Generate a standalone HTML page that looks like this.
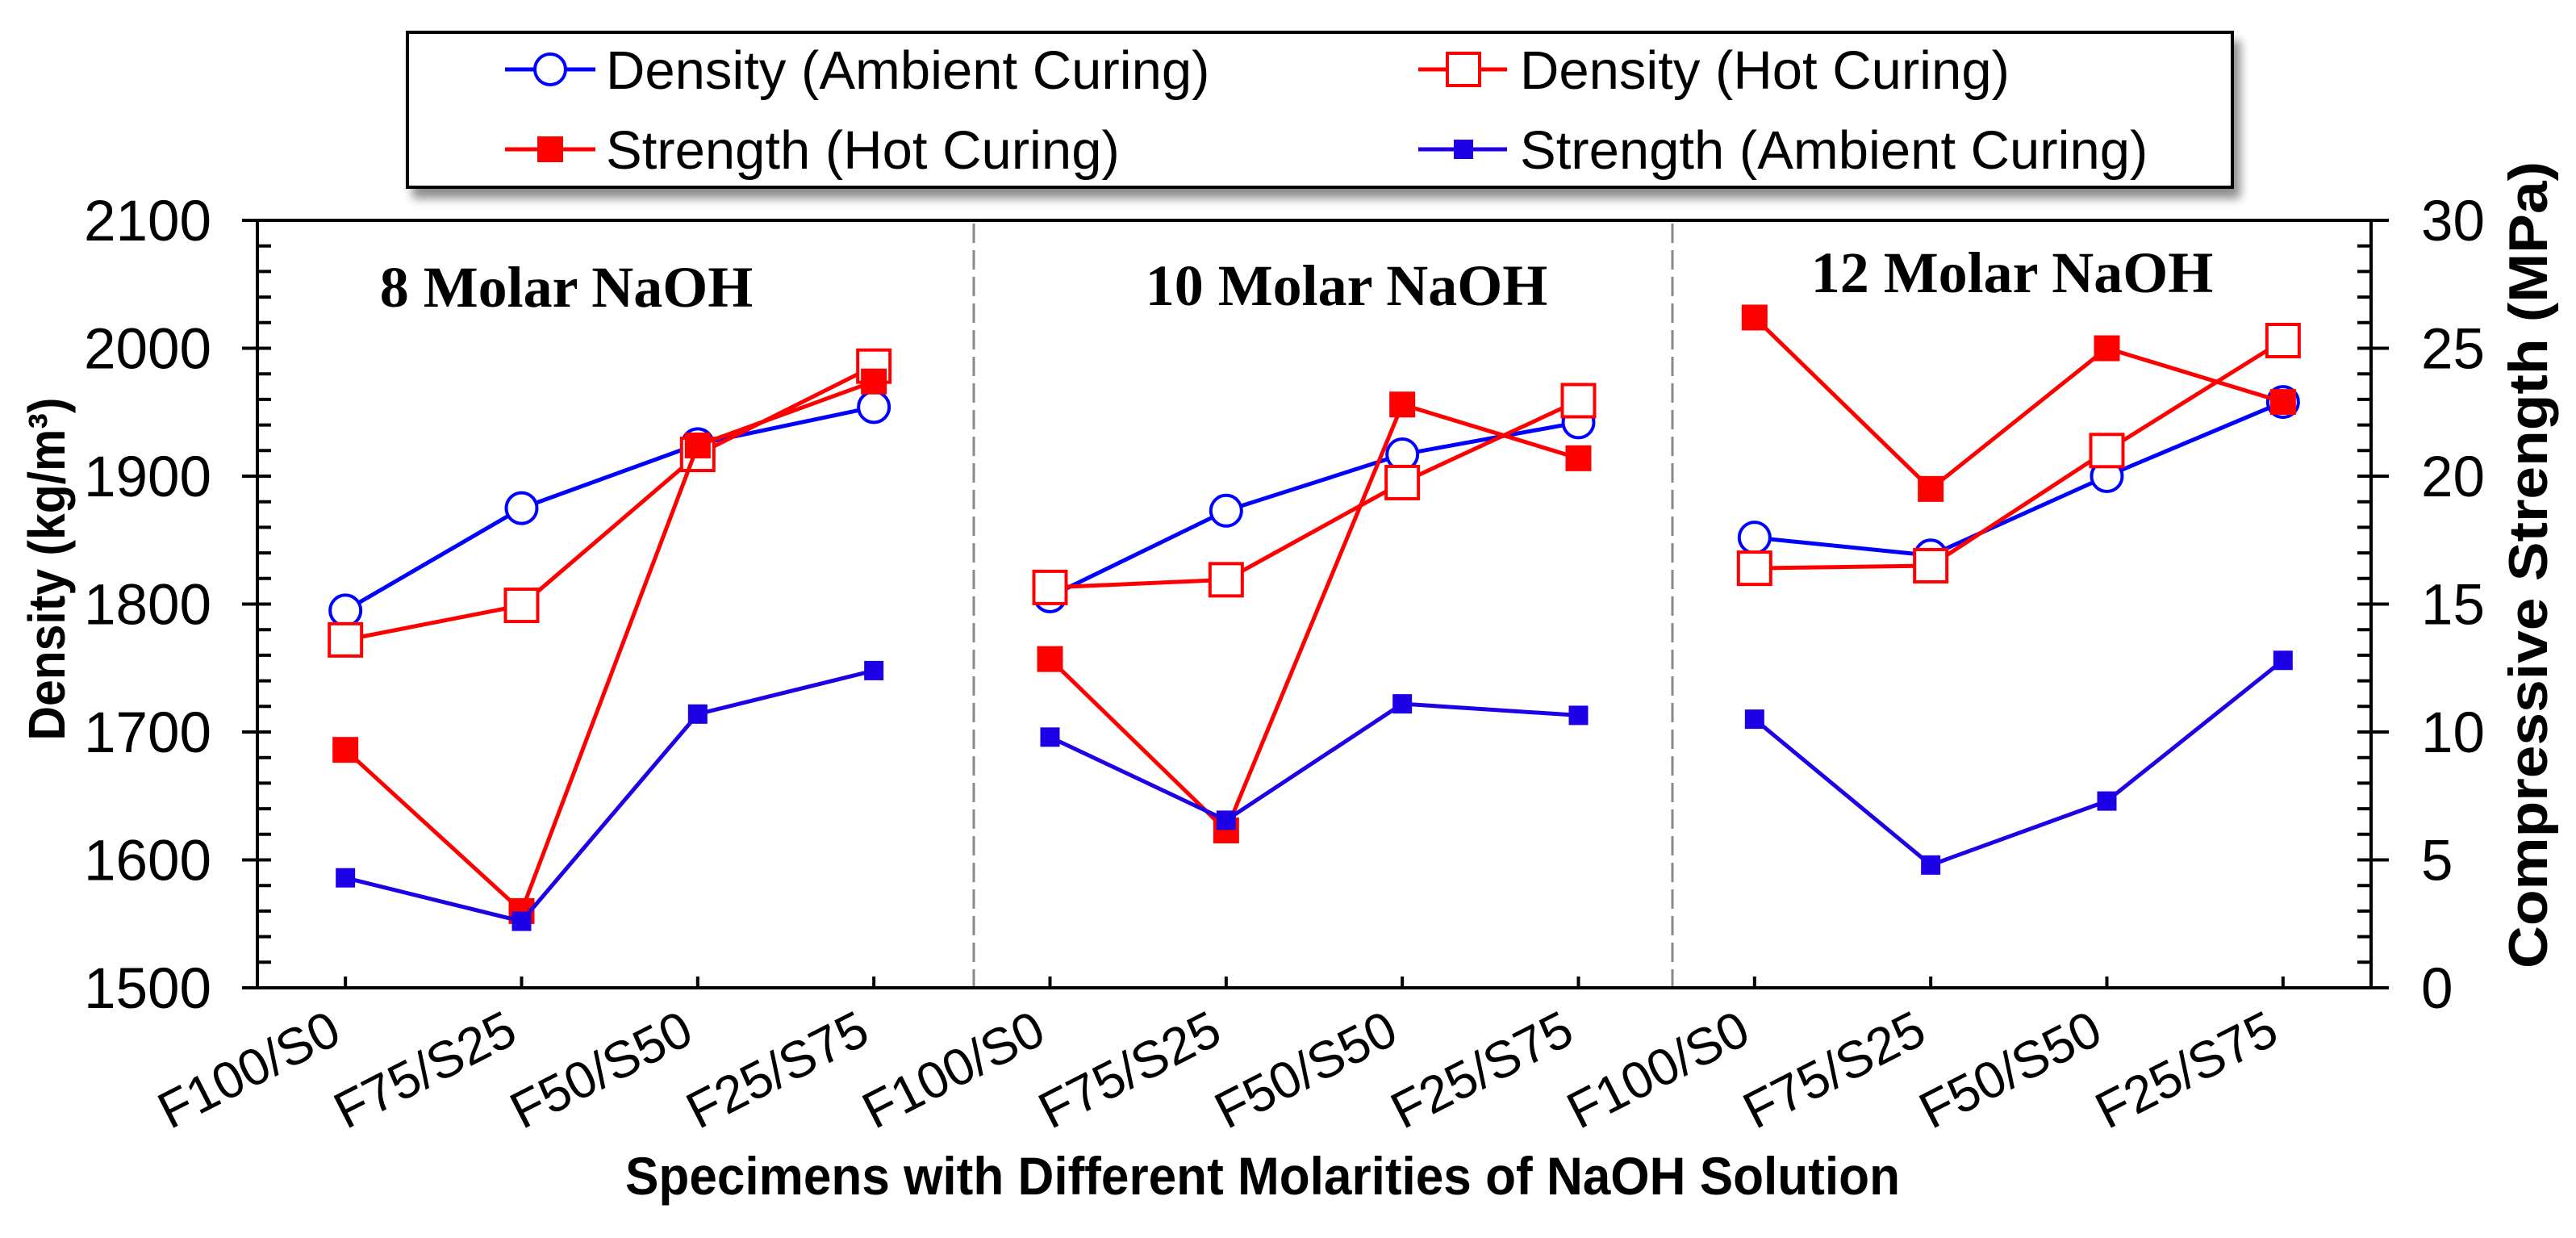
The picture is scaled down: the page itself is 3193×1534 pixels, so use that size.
<!DOCTYPE html>
<html><head><meta charset="utf-8">
<style>
html,body{margin:0;padding:0;background:#fff;}
svg{display:block;font-family:"Liberation Sans",Arial,sans-serif;}
</style></head>
<body>
<svg id="chart" width="3193" height="1534" viewBox="0 0 3193 1534" xmlns="http://www.w3.org/2000/svg">
<defs>
<filter id="shadow" x="-5%" y="-20%" width="115%" height="150%">
<feGaussianBlur in="SourceAlpha" stdDeviation="6"/>
<feOffset dx="8" dy="12" result="b"/>
<feComponentTransfer><feFuncA type="linear" slope="0.45"/></feComponentTransfer>
<feMerge><feMergeNode/><feMergeNode in="SourceGraphic"/></feMerge>
</filter>
</defs>
<g id="legend">
<rect x="505" y="40" width="2262" height="192" fill="#fff" stroke="#000" stroke-width="4" filter="url(#shadow)"/>
<g>
<line x1="626" y1="86" x2="738" y2="86" stroke="#0000ff" stroke-width="5"/>
<circle cx="682" cy="86" r="19" fill="#fff" stroke="#0000ff" stroke-width="4"/>
<text x="751" y="110" font-size="67">Density (Ambient Curing)</text>
</g>
<g>
<line x1="626" y1="185" x2="738" y2="185" stroke="#ff0000" stroke-width="5"/>
<rect x="666" y="169" width="32" height="32" fill="#ff0000"/>
<text x="751" y="209" font-size="67">Strength (Hot Curing)</text>
</g>
<g>
<line x1="1758" y1="86" x2="1868" y2="86" stroke="#ff0000" stroke-width="5"/>
<rect x="1794" y="66" width="40" height="40" fill="#fff" stroke="#ff0000" stroke-width="4"/>
<text x="1884" y="110" font-size="67">Density (Hot Curing)</text>
</g>
<g>
<line x1="1758" y1="185" x2="1868" y2="185" stroke="#1e00e6" stroke-width="5"/>
<rect x="1802" y="173" width="24" height="24" fill="#1e00e6"/>
<text x="1884" y="209" font-size="67">Strength (Ambient Curing)</text>
</g>
</g>
<g id="axes"></g>
<g id="marks"></g>
</svg>
<script>
const categories = ["F100/S0","F75/S25","F50/S50","F25/S75","F100/S0","F75/S25","F50/S50","F25/S75","F100/S0","F75/S25","F50/S50","F25/S75"];
const groupTitles = ["8 Molar NaOH","10 Molar NaOH","12 Molar NaOH"];
const densityAmbient = [1795,1875,1925,1954, 1806,1873,1917,1942, 1852,1838,1900,1958];
const densityHot     = [1772,1799,1917,1986, 1813,1819,1895,1959, 1828,1830,1920,2006];
const strengthHot    = [9.3,3.0,21.2,23.7, 12.85,6.15,22.8,20.7, 26.2,19.5,25.0,22.9];
const strengthAmbient= [4.3,2.6,10.7,12.4, 9.8,6.55,11.1,10.65, 10.5,4.8,7.3,12.8];
const leftTicks = [1500,1600,1700,1800,1900,2000,2100];
const rightTicks = [0,5,10,15,20,25,30];

const NS = "http://www.w3.org/2000/svg";
const L = 319, R = 2939, T = 273, B = 1224;
const band = (R - L) / categories.length;
function xPos(i){ return L + band * (i + 0.5); }
function yDen(v){ return B - (v - 1500) / 600 * (B - T); }
function yStr(v){ return B - v / 30 * (B - T); }
function mk(tag, attrs, parent){ const e = document.createElementNS(NS, tag); for (const k in attrs) e.setAttribute(k, attrs[k]); parent.appendChild(e); return e; }
const axes = document.getElementById('axes');
const marks = document.getElementById('marks');

[1207, 2073].forEach((x, k) => {
  const d = mk('line', {x1:x, y1:T+4, x2:x, y2:B-2, stroke:'#888', 'stroke-width':3, 'stroke-dasharray':'24 9'}, axes);
  
  
});
const frame = mk('rect', {x:L, y:T, width:R-L, height:B-T, fill:'none', stroke:'#000', 'stroke-width':4}, axes);


for (let v = 1500; v <= 2100; v += 20) {
  const y = yDen(v);
  mk('line', {x1:L, y1:y, x2:L+17, y2:y, stroke:'#000', 'stroke-width':4}, axes);
}
for (let v = 0; v <= 30; v += 1) {
  const y = yStr(v);
  mk('line', {x1:R-17, y1:y, x2:R, y2:y, stroke:'#000', 'stroke-width':4}, axes);
}
leftTicks.forEach(v => {
  const y = yDen(v);
  mk('line', {x1:L-19, y1:y, x2:L, y2:y, stroke:'#000', 'stroke-width':4}, axes);
  const t = mk('text', {x:262, y:y+25, 'font-size':71, 'text-anchor':'end'}, axes);
  t.textContent = v;
  
  
});
rightTicks.forEach(v => {
  const y = yStr(v);
  mk('line', {x1:R, y1:y, x2:R+22, y2:y, stroke:'#000', 'stroke-width':4}, axes);
  const t = mk('text', {x:3001, y:y+25, 'font-size':71}, axes);
  t.textContent = v;
  
  
});
categories.forEach((c, i) => {
  const x = xPos(i);
  mk('line', {x1:x, y1:B, x2:x, y2:B-14, stroke:'#000', 'stroke-width':4}, axes);
  const t = mk('text', {x:0, y:0, 'font-size':64, 'text-anchor':'end', transform:`translate(${x-2},${B+66}) rotate(-27)`}, axes);
  t.textContent = c;
  
  
});
const gtX = [702, 1669, 2494], gtY = [380, 378, 362];
groupTitles.forEach((g, k) => {
  const t = mk('text', {x:gtX[k], y:gtY[k], 'font-size':72, 'font-weight':'bold', 'text-anchor':'middle', 'font-family':'"Liberation Serif","Times New Roman",serif'}, axes);
  t.textContent = g;
  
  
});
let t = mk('text', {x:0, y:0, 'font-size':64, 'font-weight':'bold', 'text-anchor':'middle', transform:'translate(80,705) rotate(-90)', textLength:425, lengthAdjust:'spacingAndGlyphs'}, axes);
t.textContent = 'Density (kg/m³)';


t = mk('text', {x:0, y:0, 'font-size':68, 'font-weight':'bold', 'text-anchor':'middle', transform:'translate(3157,700) rotate(-90)', textLength:1000, lengthAdjust:'spacingAndGlyphs'}, axes);
t.textContent = 'Compressive Strength (MPa)';


t = mk('text', {x:1565, y:1480, 'font-size':66, 'font-weight':'bold', 'text-anchor':'middle', textLength:1580, lengthAdjust:'spacingAndGlyphs'}, axes);
t.textContent = 'Specimens with Different Molarities of NaOH Solution';



function drawSeries(vals, yfn, color, marker, name) {
  const g = mk('g', {}, marks);
  
  
  for (let grp = 0; grp < 3; grp++) {
    const pts = [];
    for (let j = 0; j < 4; j++) { const i = grp*4 + j; pts.push(xPos(i) + ',' + yfn(vals[i])); }
    const pl = mk('polyline', {points:pts.join(' '), fill:'none', stroke:color, 'stroke-width':5, 'stroke-linejoin':'round'}, g);
    
    
  }
  vals.forEach((v, i) => {
    const x = xPos(i), y = yfn(v);
    let m;
    if (marker === 'circle') m = mk('circle', {cx:x, cy:y, r:19, fill:'#fff', stroke:color, 'stroke-width':4}, g);
    else if (marker === 'hsq') m = mk('rect', {x:x-20, y:y-20, width:40, height:40, fill:'#fff', stroke:color, 'stroke-width':4}, g);
    else if (marker === 'bsq') m = mk('rect', {x:x-16, y:y-16, width:32, height:32, fill:color}, g);
    else m = mk('rect', {x:x-12, y:y-12, width:24, height:24, fill:color}, g);
    
    
  });
}
drawSeries(densityAmbient, yDen, '#0000ff', 'circle', 'density-ambient');
drawSeries(densityHot, yDen, '#ff0000', 'hsq', 'density-hot');
drawSeries(strengthHot, yStr, '#ff0000', 'bsq', 'strength-hot');
drawSeries(strengthAmbient, yStr, '#1e00e6', 'ssq', 'strength-ambient');
</script>
</body></html>
